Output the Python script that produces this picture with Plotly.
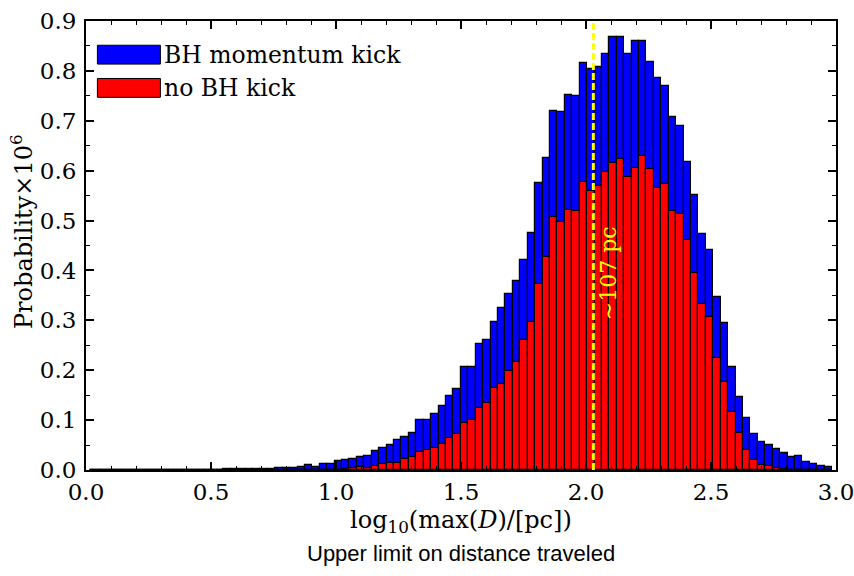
import numpy as np
import plotly.graph_objects as go

# ---- data ----
bin_lo = 0.0144
bin_hi = 2.9844
n_bins = 100

kick = [
    0, 0, 0, 0, 0, 0, 0, 0, 0, 0,
    0.0003, 0.0003, 0.0005, 0.0005, 0.0008, 0.0008, 0.001, 0.001, 0.0012, 0.0015,
    0.0012, 0.0015, 0.002, 0.002, 0.003, 0.004, 0.004, 0.005, 0.006, 0.011,
    0.007, 0.013, 0.013, 0.018, 0.020, 0.023, 0.027, 0.029, 0.039, 0.045,
    0.051, 0.060, 0.067, 0.074, 0.100, 0.101, 0.112, 0.128, 0.148, 0.163,
    0.206, 0.207, 0.252, 0.260, 0.297, 0.325, 0.353, 0.379, 0.421, 0.475,
    0.576, 0.626, 0.720, 0.717, 0.752, 0.750, 0.815, 0.803, 0.807, 0.833,
    0.867, 0.868, 0.833, 0.859, 0.859, 0.817, 0.785, 0.769, 0.708, 0.689,
    0.617, 0.551, 0.474, 0.440, 0.346, 0.295, 0.207, 0.147, 0.105, 0.073,
    0.057, 0.051, 0.043, 0.035, 0.027, 0.029, 0.017, 0.013, 0.008, 0.007,
]

nokick = [
    0, 0, 0, 0, 0, 0, 0, 0, 0, 0,
    0, 0, 0, 0, 0, 0, 0, 0, 0, 0,
    0.0003, 0.0003, 0.0003, 0.0005, 0.0005, 0.0005, 0.0006, 0.0008, 0.0008, 0.001,
    0.001, 0.001, 0.001, 0.001, 0.003, 0.004, 0.007, 0.005, 0.009, 0.013,
    0.015, 0.015, 0.022, 0.027, 0.037, 0.041, 0.045, 0.053, 0.065, 0.072,
    0.0935, 0.100, 0.125, 0.134, 0.164, 0.172, 0.198, 0.216, 0.260, 0.296,
    0.372, 0.426, 0.507, 0.498, 0.521, 0.519, 0.578, 0.560, 0.570, 0.598,
    0.616, 0.624, 0.588, 0.606, 0.630, 0.604, 0.566, 0.574, 0.519, 0.514,
    0.462, 0.395, 0.332, 0.306, 0.224, 0.176, 0.116, 0.075, 0.041, 0.020,
    0.011, 0.009, 0.005, 0.003, 0.001, 0.001, 0, 0, 0, 0,
]

median_pc = 107
series_names = ["BH momentum kick", "no BH kick"]
series_colors = ["#0000FF", "#FF0000"]

xticks = [0.0, 0.5, 1.0, 1.5, 2.0, 2.5, 3.0]
yticks = [0.0, 0.1, 0.2, 0.3, 0.4, 0.5, 0.6, 0.7, 0.8, 0.9]

# ---- figure ----
edges = np.linspace(bin_lo, bin_hi, n_bins + 1)
centers = 0.5 * (edges[:-1] + edges[1:])
width = edges[1] - edges[0]

SERIF = "DejaVu Serif"
fig = go.Figure()
for vals, name, col in [(kick, series_names[0], series_colors[0]),
                        (nokick, series_names[1], series_colors[1])]:
    fig.add_trace(go.Bar(
        x=centers, y=vals, width=width, name=name,
        marker=dict(color=col, line=dict(color="black", width=1.2)),
        showlegend=False,
    ))

xline = np.log10(median_pc)
fig.add_shape(type="line", xref="x", yref="paper", x0=xline, x1=xline, y0=0, y1=1,
              line=dict(color="#FFFF00", width=3, dash="7px,3px"))
fig.add_annotation(x=xline, y=0.395, xref="x", yref="y", xshift=16,
                   text="∼107 pc", textangle=-90, showarrow=False,
                   font=dict(family=SERIF, size=22, color="#FFFF00"))

# manual legend
leg = [(0.946, 0.904), (0.872, 0.830)]
for (ytop, ybot), name, col in zip(leg, series_names, series_colors):
    fig.add_shape(type="rect", xref="paper", yref="paper", x0=0.0152, x1=0.0992,
                  y0=ybot, y1=ytop, fillcolor=col, line=dict(color="black", width=1))
    fig.add_annotation(xref="paper", yref="paper", x=0.101, y=(ytop + ybot) / 2,
                       xanchor="left", yanchor="middle", text=name, showarrow=False,
                       font=dict(family=SERIF, size=23.5, color="black"))

axis_common = dict(showline=True, linecolor="black", linewidth=2, mirror="allticks",
                   ticks="inside", ticklen=8, tickwidth=1.5, tickcolor="black",
                   showgrid=False, zeroline=False, automargin=False,
                   ticklabeloverflow="allow",
                   tickfont=dict(family=SERIF, size=23, color="black"))
fig.update_xaxes(range=[0, 3], tickvals=xticks, ticktext=[f"{v:.1f}" for v in xticks],
                 minor=dict(dtick=0.1, ticklen=4, tickwidth=1, tickcolor="black", ticks="inside"),
                 **axis_common)
fig.update_yaxes(range=[0, 0.9], tickvals=yticks, ticktext=[f"{v:.1f}" for v in yticks],
                 ticklabelstandoff=3,
                 minor=dict(dtick=0.05, ticklen=4, tickwidth=1, tickcolor="black", ticks="inside"),
                 **axis_common)

fig.add_annotation(xref="paper", yref="paper", x=0.5, y=0, yshift=-51, yanchor="middle",
                   text="log<sub>10</sub>(max(<i>D</i>)/[pc])", showarrow=False,
                   font=dict(family=SERIF, size=24, color="black"))
fig.add_annotation(xref="paper", yref="paper", x=0.5, y=0, yshift=-83, yanchor="middle",
                   text="Upper limit on distance traveled", showarrow=False,
                   font=dict(family="Liberation Sans", size=22, color="black"))
fig.add_annotation(xref="paper", yref="paper", x=0, xshift=-64, y=0.53, xanchor="center",
                   yanchor="middle", textangle=-90,
                   text="Probability×10<sup>6</sup>", showarrow=False,
                   font=dict(family=SERIF, size=24, color="black"))

fig.update_layout(
    width=854, height=576, barmode="overlay", bargap=0, showlegend=False,
    paper_bgcolor="white", plot_bgcolor="white",
    margin=dict(l=86, r=18, t=21, b=106),
)
fig.write_html("out.html")
